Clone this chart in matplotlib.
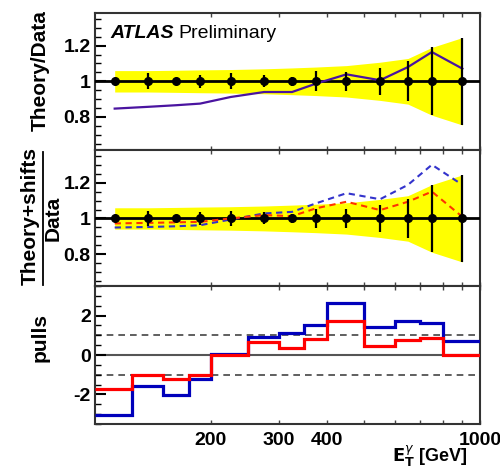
import numpy as np
import matplotlib
matplotlib.use("Agg")
import matplotlib.pyplot as plt
from matplotlib.ticker import FixedLocator, MultipleLocator, NullFormatter
from matplotlib.lines import Line2D

plt.rcParams['font.family'] = ['Liberation Sans', 'DejaVu Sans']

# bin edges in E_T [GeV]
edges = [100, 125, 150, 175, 200, 250, 300, 350, 400, 500, 600, 700, 800, 1000]

# top panel: theory / data
theory_ratio = [0.847, 0.857, 0.866, 0.875, 0.912, 0.94, 0.94, 0.987, 1.039, 1.006, 1.08, 1.164, 1.071]
data_err = [0.015, 0.044, 0.015, 0.037, 0.044, 0.034, 0.024, 0.055, 0.053, 0.074, 0.112, 0.19, 0.245]
band_err = [0.06, 0.06, 0.062, 0.064, 0.066, 0.07, 0.075, 0.08, 0.088, 0.107, 0.128, 0.19, 0.245]

# middle panel: theory + shifts / data
shift_blue = [0.949, 0.952, 0.956, 0.962, 0.994, 1.028, 1.037, 1.085, 1.142, 1.108, 1.189, 1.302, 1.189]
shift_red = [0.972, 0.975, 0.978, 0.981, 1.0, 1.019, 1.013, 1.057, 1.094, 1.047, 1.094, 1.151, 1.009]

# bottom panel: pulls
pull_blue = [-3.05, -1.58, -2.04, -1.24, 0.03, 0.9, 1.1, 1.53, 2.63, 1.44, 1.7, 1.61, 0.71]
pull_red = [-1.73, -1.02, -1.24, -1.02, 0.0, 0.64, 0.34, 0.81, 1.73, 0.47, 0.76, 0.85, 0.0]

xticks = [200, 300, 400, 1000]
xminor = [500, 600, 700, 800, 900]

edges = np.array(edges, dtype=float)
centers = 0.5 * (edges[:-1] + edges[1:])
ones = np.ones(len(centers))
derr = np.array(data_err)
berr = np.array(band_err)

W, H = 500, 469
fig = plt.figure(figsize=(W / 100, H / 100), dpi=100)

def px_axes(top, bottom):
    return fig.add_axes([95 / W, 1 - bottom / H, 385 / W, (bottom - top) / H])

ax1 = px_axes(13.5, 150)
ax2 = px_axes(150, 286)
ax3 = px_axes(286, 424)

def style(ax, ylim, major, minor, labels=False):
    ax.set_xscale('log')
    ax.set_xlim(100, 1000)
    ax.set_ylim(*ylim)
    ax.xaxis.set_major_locator(FixedLocator(xticks))
    ax.xaxis.set_minor_locator(FixedLocator(xminor))
    ax.xaxis.set_minor_formatter(NullFormatter())
    if labels:
        ax.set_xticklabels([str(t) for t in xticks])
    else:
        ax.xaxis.set_major_formatter(NullFormatter())
    ax.yaxis.set_major_locator(MultipleLocator(major))
    ax.yaxis.set_minor_locator(MultipleLocator(minor))
    ax.tick_params(axis='x', which='both', direction='in', top=True, bottom=True,
                   length=3, width=1, color='#444444', labelsize=14, pad=6)
    ax.tick_params(axis='y', which='major', direction='in', right=False,
                   length=8, width=1.5, labelsize=14, pad=3)
    ax.tick_params(axis='y', which='minor', direction='in', right=False,
                   length=4, width=1)
    for lab in ax.get_xticklabels() + ax.get_yticklabels():
        lab.set_fontweight('bold')
    for sp in ax.spines.values():
        sp.set_linewidth(1.5)
        sp.set_color('#333333')

def ratio_base(ax):
    ax.fill_between(centers, ones - berr, ones + berr, color='#ffff00', lw=0, zorder=1)
    ax.axhline(1, color='black', lw=2, zorder=3)
    ax.errorbar(centers, ones, yerr=derr, fmt='o', color='black', ms=5.5,
                elinewidth=1.6, capsize=0, zorder=5)

# top panel
ratio_base(ax1)
ax1.plot(centers, theory_ratio, color='#4a14a0', lw=1.6, zorder=4)
style(ax1, (0.615, 1.38), 0.2, 0.05)
ax1.set_yticks([0.8, 1.0, 1.2])
ax1.set_yticklabels(['0.8', '1', '1.2'], fontweight='bold')
ax1.text(0.039, 0.82, 'ATLAS', transform=ax1.transAxes, fontsize=14,
         fontweight='bold', fontstyle='italic')
ax1.text(0.2156, 0.82, 'Preliminary', transform=ax1.transAxes, fontsize=14)

# middle panel
ratio_base(ax2)
ax2.plot(centers, shift_blue, color='#3333cc', lw=1.5, ls=(0, (3, 2.2)), zorder=4)
ax2.plot(centers, shift_red, color='#ff3300', lw=1.5, ls=(0, (3, 2.2)), zorder=4)
style(ax2, (0.62, 1.385), 0.2, 0.05)
ax2.set_yticks([0.8, 1.0, 1.2])
ax2.set_yticklabels(['0.8', '1', '1.2'], fontweight='bold')

# pulls panel
ax3.axhline(0, color='#555555', lw=1.5, zorder=1)
ax3.axhline(1, color='#444444', lw=1.2, ls=(0, (4, 3)), zorder=1)
ax3.axhline(-1, color='#444444', lw=1.2, ls=(0, (4, 3)), zorder=1)
ax3.stairs(pull_blue, edges, baseline=None, color='#0000bb', lw=2.3, zorder=3)
ax3.stairs(pull_red, edges, baseline=None, color='#ff0000', lw=2.3, zorder=4)
style(ax3, (-3.5, 3.5), 2, 0.5, labels=True)
ax3.set_yticks([-2, 0, 2])
ax3.set_yticklabels(['-2', '0', '2'], fontweight='bold')

# axis titles
fig.text(40 / W, 1 - 71 / H, 'Theory/Data', rotation=90, ha='center', va='center',
         fontsize=15, fontweight='bold')
fig.text(30 / W, 1 - 216 / H, 'Theory+shifts', rotation=90, ha='center', va='center',
         fontsize=15, fontweight='bold')
fig.text(53 / W, 1 - 218 / H, 'Data', rotation=90, ha='center', va='center',
         fontsize=15, fontweight='bold')
fig.add_artist(Line2D([43 / W, 43 / W], [1 - 152 / H, 1 - 285 / H], color='black', lw=1.3))
fig.text(40 / W, 1 - 338 / H, 'pulls', rotation=90, ha='center', va='center',
         fontsize=15, fontweight='bold')
fig.text(468 / W, 1 - 462 / H, r'$\mathbf{E}_{\mathbf{T}}^{\gamma}$ [GeV]', ha='right',
         va='baseline', fontsize=13, fontweight='bold')

fig.savefig('out.png', dpi=100)
